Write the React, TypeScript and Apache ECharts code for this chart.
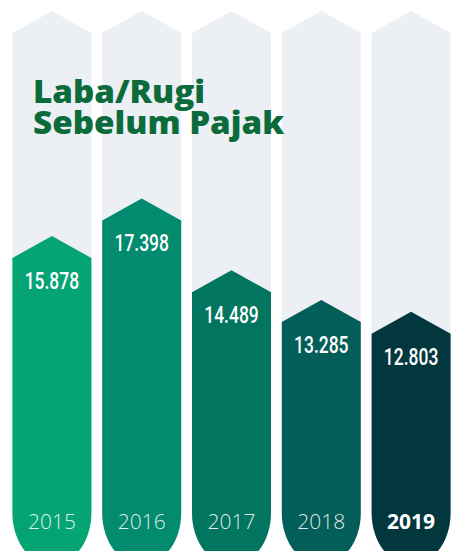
import React, { useEffect, useRef } from "react";
import * as echarts from "echarts";

const years = ["2015", "2016", "2017", "2018", "2019"];
const values = [15.878, 17.398, 14.489, 13.285, 12.803];
const valueLabels = ["15.878", "17.398", "14.489", "13.285", "12.803"];
const barColors = ["#05a573", "#028b6e", "#027560", "#035d58", "#03373e"];
const highlightIndex = 4;
const axisMin = 4;
const axisMax = 25;

const W = 456;
const H = 551;
const BAR_W = 79;
const APEX = 22;
const CURVE_START = H - 38;
const CURVE_RY = 52;
const K = 0.5523;

function shapePath(cx: number, hw: number, s: number) {
  const yc = CURVE_START;
  const ry = CURVE_RY;
  return [
    `M${cx - hw},${s}`,
    `L${cx},${s - APEX}`,
    `L${cx + hw},${s}`,
    `L${cx + hw},${yc}`,
    `C${cx + hw},${yc + K * ry} ${cx + K * hw},${yc + ry} ${cx},${yc + ry}`,
    `C${cx - K * hw},${yc + ry} ${cx - hw},${yc + K * ry} ${cx - hw},${yc}`,
    "Z",
  ].join(" ");
}

export default function App() {
  const ref = useRef<HTMLDivElement>(null);
  useEffect(() => {
    if (!ref.current) return;
    const chart = echarts.init(ref.current, null, { renderer: "svg" });
    chart.setOption({
      animation: false,
      backgroundColor: "#ffffff",
      grid: { left: 7, width: 455, top: 33, bottom: 0 },
      xAxis: { type: "category", data: years, show: false },
      yAxis: { type: "value", min: axisMin, max: axisMax, show: false, splitLine: { show: false } },
      series: [
        {
          type: "custom",
          silent: true,
          data: years.map((_, i) => [i, axisMax]),
          z: 1,
          renderItem: (params: any, api: any) => {
            const p = api.coord([api.value(0), api.value(1)]);
            return {
              type: "path",
              shape: { pathData: shapePath(p[0], BAR_W / 2, p[1]) },
              style: { fill: "#eceff3" },
            };
          },
        },
        {
          type: "custom",
          silent: true,
          z: 2,
          data: values.map((v, i) => [i, v]),
          renderItem: (params: any, api: any) => {
            const i = params.dataIndex;
            const p = api.coord([api.value(0), api.value(1)]);
            const cx = p[0];
            const s = p[1];
            return {
              type: "group",
              children: [
                {
                  type: "path",
                  shape: { pathData: shapePath(cx, BAR_W / 2, s) },
                  style: { fill: barColors[i] },
                },
                {
                  type: "text",
                  x: cx,
                  y: s + 23,
                  scaleX: 0.76,
                  style: {
                    text: valueLabels[i],
                    fill: "#ffffff",
                    font: "500 23px Roboto, sans-serif",
                    align: "center",
                    verticalAlign: "middle",
                  },
                },
                {
                  type: "text",
                  x: cx,
                  y: CURVE_START + 8,
                  style: {
                    text: years[i],
                    fill: i === highlightIndex ? "#ffffff" : "rgba(255,255,255,0.88)",
                    font:
                      (i === highlightIndex ? "bold " : "300 ") +
                      "21px 'Open Sans', sans-serif",
                    align: "center",
                    verticalAlign: "middle",
                  },
                },
              ],
            };
          },
        },
      ],
      graphic: [
        {
          type: "text",
          left: 33,
          top: 75,
          scaleX: 1.07,
          z: 10,
          style: {
            text: "Laba/Rugi\nSebelum Pajak",
            fill: "#0b6b3a",
            font: "800 31px 'Open Sans', sans-serif",
            lineHeight: 31,
          },
        },
      ],
    });
    return () => chart.dispose();
  }, []);
  return (
    <div
      ref={ref}
      style={{ position: "fixed", left: 0, top: 0, width: W, height: H }}
    />
  );
}
